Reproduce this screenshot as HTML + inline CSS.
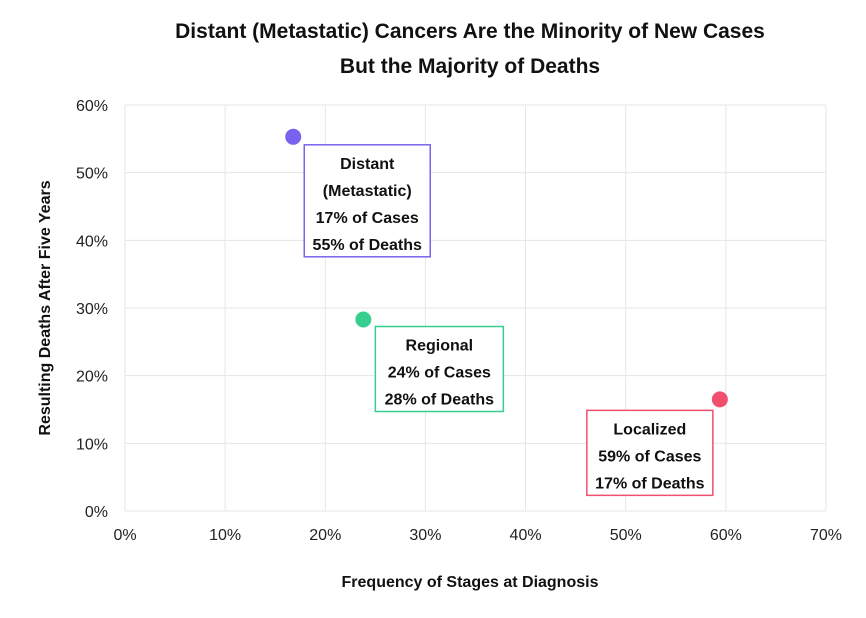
<!DOCTYPE html>
<html><head><meta charset="utf-8"><style>
body{margin:0;background:#fff;font-family:"Liberation Sans",sans-serif;}
svg text{font-family:"Liberation Sans",sans-serif;}
</style></head><body>
<svg id="c" width="866" height="613" xmlns="http://www.w3.org/2000/svg">
<text x="470" y="38" text-anchor="middle" font-size="21" font-weight="bold" fill="#111">Distant (Metastatic) Cancers Are the Minority of New Cases</text>
<text x="470" y="73" text-anchor="middle" font-size="21" font-weight="bold" fill="#111">But the Majority of Deaths</text>
<g id="grid"></g><g id="ticks"></g><g id="marks"></g>
<text x="470" y="587" text-anchor="middle" font-size="16" font-weight="bold" fill="#111">Frequency of Stages at Diagnosis</text>
<text transform="translate(50,308) rotate(-90)" text-anchor="middle" font-size="16" font-weight="bold" fill="#111">Resulting Deaths After Five Years</text>
</svg>
<script>
const xTicks=[0,10,20,30,40,50,60,70];
const yTicks=[0,10,20,30,40,50,60];
const names=["Distant","Regional","Localized"];
const casesPct=[16.8,23.8,59.4];
const deathsPct=[55.3,28.3,16.5];
const labelLines=[["Distant","(Metastatic)","17% of Cases","55% of Deaths"],["Regional","24% of Cases","28% of Deaths"],["Localized","59% of Cases","17% of Deaths"]];
const colors=["#7b61f0","#35d08f","#f0506e"];
const boxOff=[[11,8,126],[12,7,128],[-133,11,126]];
const X=v=>125+v*(826-125)/70, Y=v=>511-v*(511-105)/60;
const NS="http://www.w3.org/2000/svg";
function mk(t,a,p){const e=document.createElementNS(NS,t);for(const k in a)e.setAttribute(k,a[k]);p.appendChild(e);return e;}
const g=document.getElementById('grid'),tk=document.getElementById('ticks'),m=document.getElementById('marks');
xTicks.forEach(v=>{const l=mk('line',{x1:X(v),x2:X(v),y1:105,y2:511,stroke:'#e6e6e6','stroke-width':1},g);

const t=mk('text',{x:X(v),y:540,'text-anchor':'middle','font-size':16,fill:'#222'},tk);t.textContent=v+'%';
});
yTicks.forEach(v=>{const l=mk('line',{x1:125,x2:826,y1:Y(v),y2:Y(v),stroke:'#e6e6e6','stroke-width':1},g);

const t=mk('text',{x:108,y:Y(v)+6,'text-anchor':'end','font-size':16,fill:'#222'},tk);t.textContent=v+'%';
});
names.forEach((n,i)=>{const cx=X(casesPct[i]),cy=Y(deathsPct[i]);
const c=mk('circle',{cx:cx,cy:cy,r:8,fill:colors[i]},m);

const lines=labelLines[i],h=lines.length*27+4,bx=cx+boxOff[i][0],by=cy+boxOff[i][1],w=boxOff[i][2];
const r=mk('rect',{x:bx,y:by,width:w,height:h,fill:'#fff',stroke:colors[i],'stroke-width':1.5},m);

lines.forEach((s,j)=>{const t=mk('text',{x:bx+w/2,y:by+24+j*27,'text-anchor':'middle','font-size':16,'font-weight':'bold',fill:'#111'},m);t.textContent=s;
});});
</script>
</body></html>
